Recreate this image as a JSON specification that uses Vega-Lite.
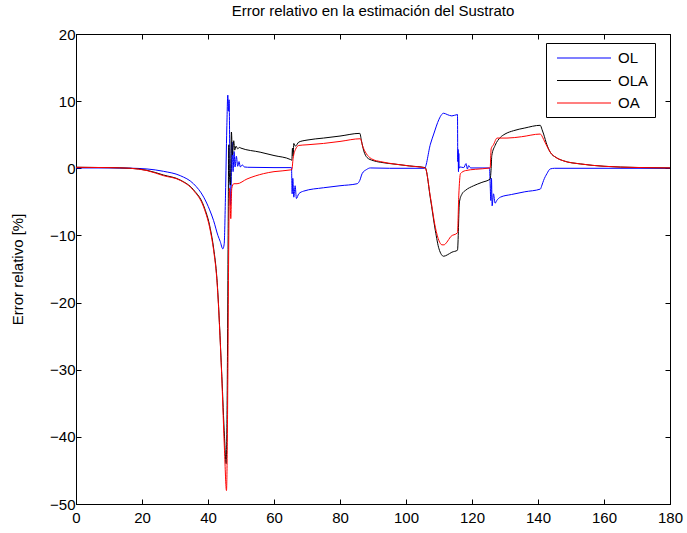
{
"$schema":"https://vega.github.io/schema/vega-lite/v6.json",
"width":594,"height":470,
"autosize":{"type":"none"},
"padding":{"left":76,"top":34,"right":17,"bottom":29},
"background":"white",
"title":{"text":"Error relativo en la estimación del Sustrato","fontSize":15,"font":"Liberation Sans","fontWeight":"normal","color":"black","offset":8,"anchor":"middle"},
"config":{"view":{"stroke":"black","strokeWidth":1},"font":"Liberation Sans"},
"datasets":{"d":[
{"s":"OL","x":0,"y":0.05},{"s":"OL","x":10,"y":0.05},{"s":"OL","x":16,"y":0.02},{"s":"OL","x":21.5,"y":-0.1},{"s":"OL","x":26.5,"y":-0.45},{"s":"OL","x":31.6,"y":-1.1},{"s":"OL","x":35.6,"y":-2.3},{"s":"OL","x":38.7,"y":-4.3},{"s":"OL","x":40.5,"y":-6.2},{"s":"OL","x":41.7,"y":-7.8},{"s":"OL","x":43,"y":-10},{"s":"OL","x":43.7,"y":-10.9},{"s":"OL","x":44.5,"y":-12},{"s":"OL","x":44.9,"y":-11.3},{"s":"OL","x":45.3,"y":-4},{"s":"OL","x":45.7,"y":6},{"s":"OL","x":46.0,"y":10.9},{"s":"OL","x":46.2,"y":8.5},{"s":"OL","x":46.4,"y":10.2},{"s":"OL","x":46.6,"y":2},{"s":"OL","x":46.8,"y":-5.5},{"s":"OL","x":47.0,"y":-3},{"s":"OL","x":47.3,"y":3.9},{"s":"OL","x":47.6,"y":-0.5},{"s":"OL","x":47.9,"y":2.5},{"s":"OL","x":48.2,"y":0.2},{"s":"OL","x":48.6,"y":1.8},{"s":"OL","x":49.0,"y":0.3},{"s":"OL","x":49.4,"y":1.0},{"s":"OL","x":49.8,"y":0.2},{"s":"OL","x":50.4,"y":0.5},{"s":"OL","x":51,"y":0.2},{"s":"OL","x":52,"y":0.15},{"s":"OL","x":60,"y":0.1},{"s":"OL","x":65.3,"y":0.1},{"s":"OL","x":65.5,"y":-3.8},{"s":"OL","x":65.7,"y":-1.5},{"s":"OL","x":66,"y":-4.3},{"s":"OL","x":66.4,"y":-2.6},{"s":"OL","x":66.8,"y":-4.5},{"s":"OL","x":67.5,"y":-3.8},{"s":"OL","x":69,"y":-3.4},{"s":"OL","x":75,"y":-2.9},{"s":"OL","x":80,"y":-2.6},{"s":"OL","x":85.2,"y":-2.3},{"s":"OL","x":86,"y":-1.8},{"s":"OL","x":86.7,"y":-0.8},{"s":"OL","x":88,"y":-0.2},{"s":"OL","x":89.2,"y":0.05},{"s":"OL","x":95,"y":0},{"s":"OL","x":105.6,"y":0},{"s":"OL","x":107.4,"y":3.6},{"s":"OL","x":108.4,"y":5.1},{"s":"OL","x":110,"y":7.3},{"s":"OL","x":110.8,"y":8.0},{"s":"OL","x":111.4,"y":8.2},{"s":"OL","x":112.5,"y":8.0},{"s":"OL","x":113.9,"y":7.8},{"s":"OL","x":115.6,"y":8.0},{"s":"OL","x":115.7,"y":1},{"s":"OL","x":115.8,"y":2.8},{"s":"OL","x":115.9,"y":-0.5},{"s":"OL","x":116.0,"y":2.2},{"s":"OL","x":116.1,"y":0},{"s":"OL","x":116.3,"y":0.2},{"s":"OL","x":117.5,"y":0.1},{"s":"OL","x":118.2,"y":0.7},{"s":"OL","x":118.6,"y":-0.1},{"s":"OL","x":119,"y":0.4},{"s":"OL","x":119.6,"y":0.05},{"s":"OL","x":125.3,"y":0.05},{"s":"OL","x":125.5,"y":-2.3},{"s":"OL","x":125.7,"y":-4.8},{"s":"OL","x":125.9,"y":-1.5},{"s":"OL","x":126.1,"y":-5.6},{"s":"OL","x":126.5,"y":-3.8},{"s":"OL","x":127,"y":-5.2},{"s":"OL","x":127.5,"y":-4.8},{"s":"OL","x":128.6,"y":-4.3},{"s":"OL","x":132,"y":-3.9},{"s":"OL","x":136,"y":-3.5},{"s":"OL","x":140.7,"y":-3.1},{"s":"OL","x":141.2,"y":-2.5},{"s":"OL","x":141.7,"y":-1.8},{"s":"OL","x":142.7,"y":-0.8},{"s":"OL","x":143.7,"y":-0.1},{"s":"OL","x":145,"y":0},{"s":"OL","x":180,"y":0},
{"s":"OLA","x":0,"y":0.15},{"s":"OLA","x":10,"y":0.1},{"s":"OLA","x":16.5,"y":0},{"s":"OLA","x":21.5,"y":-0.3},{"s":"OLA","x":26.5,"y":-1.0},{"s":"OLA","x":31.6,"y":-1.75},{"s":"OLA","x":35.6,"y":-3.2},{"s":"OLA","x":38.7,"y":-5.6},{"s":"OLA","x":40.7,"y":-9.0},{"s":"OLA","x":41.7,"y":-11.9},{"s":"OLA","x":42.7,"y":-16.4},{"s":"OLA","x":44.2,"y":-31},{"s":"OLA","x":45,"y":-40},{"s":"OLA","x":45.5,"y":-44},{"s":"OLA","x":45.9,"y":-28},{"s":"OLA","x":46.1,"y":-10},{"s":"OLA","x":46.3,"y":3.5},{"s":"OLA","x":46.5,"y":-1},{"s":"OLA","x":46.8,"y":-2.5},{"s":"OLA","x":47.1,"y":5.4},{"s":"OLA","x":47.4,"y":2.0},{"s":"OLA","x":47.8,"y":4.1},{"s":"OLA","x":48.1,"y":2.7},{"s":"OLA","x":48.5,"y":3.3},{"s":"OLA","x":49,"y":2.9},{"s":"OLA","x":49.5,"y":3.1},{"s":"OLA","x":50,"y":3.0},{"s":"OLA","x":55.8,"y":2.4},{"s":"OLA","x":60,"y":1.9},{"s":"OLA","x":65,"y":1.3},{"s":"OLA","x":65.4,"y":1.2},{"s":"OLA","x":65.6,"y":3.0},{"s":"OLA","x":65.8,"y":1.8},{"s":"OLA","x":66,"y":3.7},{"s":"OLA","x":66.5,"y":3.3},{"s":"OLA","x":67.5,"y":3.9},{"s":"OLA","x":70,"y":4.2},{"s":"OLA","x":75,"y":4.5},{"s":"OLA","x":80,"y":4.8},{"s":"OLA","x":86,"y":5.2},{"s":"OLA","x":86.5,"y":4.1},{"s":"OLA","x":87.2,"y":2.6},{"s":"OLA","x":88.2,"y":1.6},{"s":"OLA","x":90,"y":1.15},{"s":"OLA","x":92.2,"y":0.9},{"s":"OLA","x":97,"y":0.6},{"s":"OLA","x":101,"y":0.35},{"s":"OLA","x":105.8,"y":0.1},{"s":"OLA","x":107.4,"y":-4.5},{"s":"OLA","x":108.9,"y":-9.3},{"s":"OLA","x":110,"y":-12},{"s":"OLA","x":111.4,"y":-13.1},{"s":"OLA","x":112.5,"y":-12.9},{"s":"OLA","x":113.9,"y":-12.5},{"s":"OLA","x":115.6,"y":-12.2},{"s":"OLA","x":116.2,"y":-5},{"s":"OLA","x":117,"y":-3.8},{"s":"OLA","x":118,"y":-3.3},{"s":"OLA","x":120.5,"y":-2.6},{"s":"OLA","x":123,"y":-2.1},{"s":"OLA","x":125.5,"y":-1.6},{"s":"OLA","x":125.8,"y":0},{"s":"OLA","x":126,"y":1.9},{"s":"OLA","x":127,"y":3.4},{"s":"OLA","x":128.6,"y":4.6},{"s":"OLA","x":130,"y":5.1},{"s":"OLA","x":132.6,"y":5.6},{"s":"OLA","x":136,"y":6.0},{"s":"OLA","x":140.7,"y":6.4},{"s":"OLA","x":141.2,"y":5.8},{"s":"OLA","x":141.7,"y":5.1},{"s":"OLA","x":142.7,"y":3.5},{"s":"OLA","x":143.7,"y":2.4},{"s":"OLA","x":145.5,"y":1.6},{"s":"OLA","x":147.8,"y":1.1},{"s":"OLA","x":152.8,"y":0.65},{"s":"OLA","x":160,"y":0.3},{"s":"OLA","x":170,"y":0.12},{"s":"OLA","x":180,"y":0.05},
{"s":"OA","x":0,"y":0.15},{"s":"OA","x":10,"y":0.1},{"s":"OA","x":16.5,"y":0},{"s":"OA","x":21.5,"y":-0.34},{"s":"OA","x":26.5,"y":-1.1},{"s":"OA","x":31.6,"y":-1.8},{"s":"OA","x":35.6,"y":-3.3},{"s":"OA","x":38.7,"y":-5.8},{"s":"OA","x":40.7,"y":-9.3},{"s":"OA","x":41.7,"y":-12.2},{"s":"OA","x":42.7,"y":-16.7},{"s":"OA","x":44.2,"y":-31.5},{"s":"OA","x":45,"y":-42},{"s":"OA","x":45.6,"y":-48},{"s":"OA","x":46.0,"y":-32},{"s":"OA","x":46.2,"y":-16.7},{"s":"OA","x":46.5,"y":-3},{"s":"OA","x":46.7,"y":-4.5},{"s":"OA","x":46.9,"y":-7.5},{"s":"OA","x":47.2,"y":-3},{"s":"OA","x":47.8,"y":-2.3},{"s":"OA","x":48.8,"y":-2.3},{"s":"OA","x":51.8,"y":-1.6},{"s":"OA","x":56.8,"y":-0.8},{"s":"OA","x":60,"y":-0.5},{"s":"OA","x":64.9,"y":-0.25},{"s":"OA","x":65.4,"y":-0.2},{"s":"OA","x":65.8,"y":1.5},{"s":"OA","x":66.5,"y":2.8},{"s":"OA","x":67.5,"y":3.4},{"s":"OA","x":70,"y":3.5},{"s":"OA","x":75,"y":3.7},{"s":"OA","x":80,"y":4.0},{"s":"OA","x":86.2,"y":4.4},{"s":"OA","x":86.8,"y":3.4},{"s":"OA","x":87.7,"y":2.4},{"s":"OA","x":89,"y":1.6},{"s":"OA","x":90,"y":1.3},{"s":"OA","x":92.2,"y":1.0},{"s":"OA","x":97,"y":0.6},{"s":"OA","x":101,"y":0.35},{"s":"OA","x":105.8,"y":0.05},{"s":"OA","x":107.4,"y":-4.3},{"s":"OA","x":108.9,"y":-8.8},{"s":"OA","x":110,"y":-10.8},{"s":"OA","x":110.9,"y":-11.4},{"s":"OA","x":111.5,"y":-11.4},{"s":"OA","x":112.4,"y":-11.0},{"s":"OA","x":113.5,"y":-10.2},{"s":"OA","x":115.6,"y":-9.6},{"s":"OA","x":116,"y":-4},{"s":"OA","x":116.5,"y":-0.8},{"s":"OA","x":118,"y":-0.35},{"s":"OA","x":121,"y":-0.15},{"s":"OA","x":125.5,"y":0.05},{"s":"OA","x":125.8,"y":2.9},{"s":"OA","x":126.5,"y":3.5},{"s":"OA","x":127.6,"y":4.5},{"s":"OA","x":130.6,"y":4.5},{"s":"OA","x":135,"y":4.7},{"s":"OA","x":140.7,"y":5.1},{"s":"OA","x":141.2,"y":4.8},{"s":"OA","x":141.7,"y":4.3},{"s":"OA","x":142.7,"y":3.3},{"s":"OA","x":143.7,"y":2.4},{"s":"OA","x":145.5,"y":1.6},{"s":"OA","x":147.8,"y":1.1},{"s":"OA","x":152.8,"y":0.65},{"s":"OA","x":160,"y":0.3},{"s":"OA","x":170,"y":0.12},{"s":"OA","x":180,"y":0.05}
]},
"data":{"name":"d"},
"layer":[
{"mark":{"type":"line","strokeWidth":1,"interpolate":"monotone","clip":true},
 "encoding":{
  "x":{"field":"x","type":"quantitative","scale":{"domain":[0,180],"nice":false,"zero":false},
   "axis":{"title":null,"values":[0,20,40,60,80,100,120,140,160,180],"grid":false,"tickSize":-5,"tickColor":"black","domainColor":"black","labelColor":"black","labelFontSize":15,"labelFont":"Liberation Sans","labelPadding":11,"labelFlush":false}},
  "y":{"field":"y","type":"quantitative","scale":{"domain":[-50,20],"nice":false,"zero":false},
   "axis":{"title":"Error relativo [%]","values":[-50,-40,-30,-20,-10,0,10,20],"grid":false,"tickSize":-5,"tickColor":"black","domainColor":"black","labelColor":"black","labelFontSize":15,"labelFont":"Liberation Sans","labelPadding":6,"titleFontSize":15,"titleFont":"Liberation Sans","titleFontWeight":"normal","titleColor":"black","titlePadding":24}},
  "color":{"field":"s","type":"nominal","sort":["OL","OLA","OA"],"scale":{"domain":["OL","OLA","OA"],"range":["#0000ff","#000000","#ff0000"]},
   "legend":{"title":null,"orient":"none","legendX":470,"legendY":9,"padding":6,"strokeColor":"black","fillColor":"white","symbolType":"M-0.5,0H6.25","symbolSize":256,"symbolStrokeWidth":1.2,"symbolOpacity":1,"labelFontSize":15,"labelFont":"Liberation Sans","labelColor":"black","labelOffset":48,"rowPadding":5.5,"cornerRadius":0}}
 }},
{"mark":{"type":"line","opacity":0},
 "encoding":{
  "x":{"field":"x","type":"quantitative","axis":{"orient":"top","title":null,"labels":false,"values":[0,20,40,60,80,100,120,140,160,180],"grid":false,"tickSize":-5,"tickColor":"black","domainColor":"black"}},
  "y":{"field":"y","type":"quantitative","axis":{"orient":"right","title":null,"labels":false,"values":[-50,-40,-30,-20,-10,0,10,20],"grid":false,"tickSize":-5,"tickColor":"black","domainColor":"black"}}
 }}
],
"resolve":{"axis":{"x":"independent","y":"independent"}}
}
